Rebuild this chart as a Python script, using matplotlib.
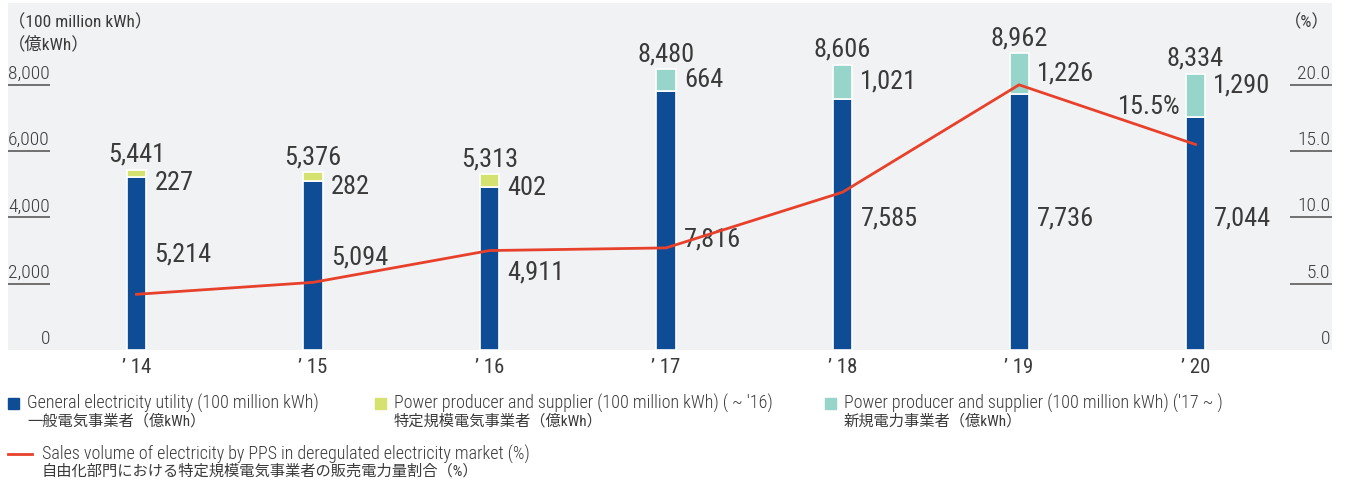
import matplotlib.pyplot as plt
from matplotlib import font_manager
from matplotlib.patches import Rectangle
from matplotlib.lines import Line2D
import matplotlib.transforms as mtransforms

# datos
years = ["’ 14", "’ 15", "’ 16", "’ 17", "’ 18", "’ 19", "’ 20"]
general = [5214, 5094, 4911, 7816, 7585, 7736, 7044]
pps_old = [227, 282, 402, 0, 0, 0, 0]
pps_new = [0, 0, 0, 664, 1021, 1226, 1290]
totals = [5441, 5376, 5313, 8480, 8606, 8962, 8334]
share = [4.2, 5.1, 7.5, 7.7, 11.9, 20.0, 15.5]
left_ticks = [0, 2000, 4000, 6000, 8000]
right_ticks = [0, 5, 10, 15, 20]

# posiciones de etiquetas (en unidades del eje)
mid_label_y = [2870, 2780, 2350, 3320, 3980, 3980, 3980]
top_label_y = [5050, 4930, 4880, 8140, 8090, 8340, 7990]

# fuente condensada si existe
names = {f.name for f in font_manager.fontManager.ttflist}
latin = 'Liberation Sans'
for cand in ['Roboto Condensed', 'Archivo Narrow', 'PT Sans Narrow', 'Liberation Sans Narrow']:
    if cand in names:
        latin = cand
        break
FAM = [latin, 'Noto Sans CJK JP', 'DejaVu Sans']
plt.rcParams['font.family'] = FAM

BLUE = '#0f4c96'
GREEN = '#d5e26f'
TEAL = '#97d5cb'
RED = '#e8412b'
BG = '#f1f2f4'
TXT = '#3a3a3a'

fig = plt.figure(figsize=(13.46, 4.82), dpi=100)
ax = fig.add_axes([8 / 1346, 1 - 350 / 482, 1324 / 1346, 347 / 482])
ax.set_facecolor(BG)
for s in ax.spines.values():
    s.set_visible(False)

x = list(range(len(years)))
ymax = 10468
ax.set_xlim(-0.728, 6.773)
ax.set_ylim(0, ymax)

w = 0.108
ax.bar(x, general, w, color=BLUE, edgecolor='white', linewidth=1.2, zorder=2)
old_idx = [i for i in x if pps_old[i] > 0]
new_idx = [i for i in x if pps_new[i] > 0]
ax.bar(old_idx, [pps_old[i] for i in old_idx], w, bottom=[general[i] for i in old_idx],
       color=GREEN, edgecolor='white', linewidth=1.2, zorder=2)
ax.bar(new_idx, [pps_new[i] for i in new_idx], w, bottom=[general[i] for i in new_idx],
       color=TEAL, edgecolor='white', linewidth=1.2, zorder=2)

ax.set_xticks(x)
ax.set_xticklabels(years, fontsize=15, color=TXT)
ax.tick_params(axis='x', length=0, pad=6)
ax.set_yticks([])

# etiquetas de valores
LBL = 19
for i in x:
    ax.annotate(f"{totals[i]:,}", (i, totals[i]), xytext=(0, 2), textcoords='offset points',
                ha='center', va='bottom', fontsize=LBL, color=TXT, zorder=4)
    seg = pps_old[i] or pps_new[i]
    ax.annotate(f"{seg:,}", (i + w / 2, top_label_y[i]), xytext=(6, 0), textcoords='offset points',
                ha='left', va='center', fontsize=LBL, color=TXT, zorder=4)
    ax.annotate(f"{general[i]:,}", (i + w / 2, mid_label_y[i]), xytext=(6, 0), textcoords='offset points',
                ha='left', va='center', fontsize=LBL, color=TXT, zorder=4)

# eje izquierdo personalizado
trans = mtransforms.blended_transform_factory(ax.transAxes, ax.transData)
for t in left_ticks:
    ax.text(0.0317, t + 60, f"{t:,}", transform=trans, ha='right', va='bottom',
            fontsize=14, color=TXT, weight='light')
    if t > 0:
        ax.plot([0, 0.0317], [t, t], transform=trans, color='#666666', lw=1.3,
                solid_capstyle='butt', clip_on=False)

# eje derecho
ax2 = ax.twinx()
ax2.set_ylim(0, ymax * 20 / 8000)
ax2.set_yticks([])
for s in ax2.spines.values():
    s.set_visible(False)
ax2.plot(x, share, color=RED, lw=2, zorder=5)
trans2 = mtransforms.blended_transform_factory(ax2.transAxes, ax2.transData)
for t in right_ticks:
    lab = "0" if t == 0 else f"{t:.1f}"
    ax2.text(0.9985, t + 0.15, lab, transform=trans2, ha='right', va='bottom',
             fontsize=14, color=TXT, weight='light')
    if t > 0:
        ax2.plot([0.968, 1.0], [t, t], transform=trans2, color='#666666', lw=1.3,
                 solid_capstyle='butt', clip_on=False)
ax2.annotate(f"{share[-1]}%", (x[-1] - w / 2, share[-1]), xytext=(-4, 27), textcoords='offset points',
             ha='right', va='center', fontsize=LBL, color=TXT)

# unidades
fig.text(8 / 1346, 1 - 22 / 482, "（100 million kWh）", ha='left', va='center', fontsize=12.5, color=TXT)
fig.text(8 / 1346, 1 - 44 / 482, "（億kWh）", ha='left', va='center', fontsize=12.5, color=TXT)
fig.text(1330 / 1346, 1 - 22 / 482, "（%）", ha='right', va='center', fontsize=12.5, color=TXT)

# leyenda manual
def fx(px):
    return px / 1346

def fy(py):
    return 1 - py / 482

legend_items = [
    (8, BLUE, "General electricity utility (100 million kWh)", "一般電気事業者（億kWh）"),
    (375, GREEN, "Power producer and supplier (100 million kWh) ( ~ '16)", "特定規模電気事業者（億kWh）"),
    (825, TEAL, "Power producer and supplier (100 million kWh) ('17 ~ )", "新規電力事業者（億kWh）"),
]
for px, col, en, ja in legend_items:
    fig.patches.append(Rectangle((fx(px), fy(409)), 11 / 1346, 11 / 482, transform=fig.transFigure,
                                 color=col, figure=fig))
    fig.text(fx(px + 19), fy(403), en, ha='left', va='center', fontsize=13, color=TXT, weight='light')
    fig.text(fx(px + 19), fy(421), ja, ha='left', va='center', fontsize=11, color=TXT)

fig.lines.append(Line2D([fx(8), fx(32)], [fy(454), fy(454)], transform=fig.transFigure,
                        color=RED, lw=2, figure=fig))
fig.text(fx(42), fy(454), "Sales volume of electricity by PPS in deregulated electricity market (%)",
         ha='left', va='center', fontsize=13, color=TXT, weight='light')
fig.text(fx(42), fy(471), "自由化部門における特定規模電気事業者の販売電力量割合（%）",
         ha='left', va='center', fontsize=11, color=TXT)

fig.savefig('out.png', dpi=100)
